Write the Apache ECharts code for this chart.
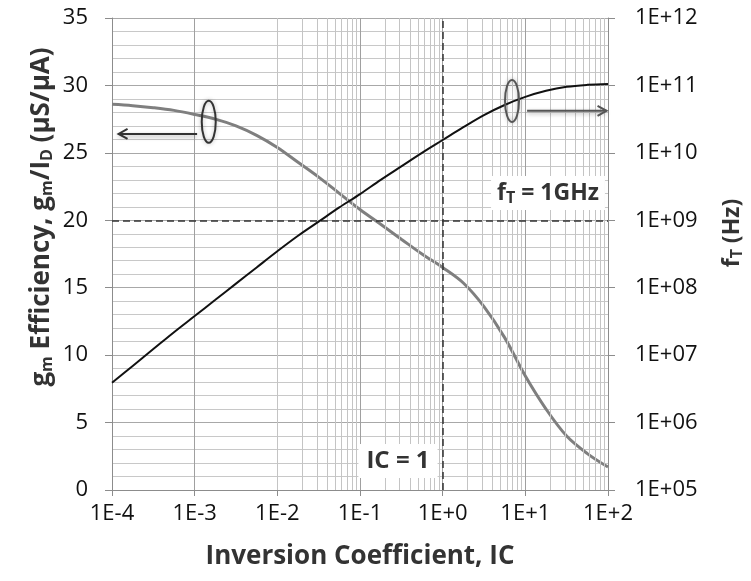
<!DOCTYPE html>
<html>
<head>
<meta charset="utf-8">
<script src="https://cdn.jsdelivr.net/npm/echarts@6/dist/echarts.min.js"></script>
<style>
  html, body { margin: 0; padding: 0; background: #fff; }
  #chart { width: 751px; height: 581px; }
</style>
</head>
<body>
<div id="chart"></div>
<script>
// inversion coefficient samples, quarter decades (x, log scale)
const icValues = [
  1e-4, 1.78e-4, 3.16e-4, 5.62e-4,
  1e-3, 1.78e-3, 3.16e-3, 5.62e-3,
  1e-2, 1.78e-2, 3.16e-2, 5.62e-2,
  1e-1, 1.78e-1, 3.16e-1, 5.62e-1,
  1, 1.78, 3.16, 5.62,
  10, 17.8, 31.6, 56.2,
  100
];
// gm/ID efficiency, uS/uA (left axis)
const gmIdValues = [
  28.6, 28.5, 28.35, 28.15,
  27.85, 27.5, 27.0, 26.3,
  25.4, 24.3, 23.2, 22.0,
  20.8, 19.7, 18.6, 17.5,
  16.5, 15.35, 13.6, 11.3,
  8.45, 6.0, 4.0, 2.7,
  1.7
];
// transit frequency fT, Hz (right axis)
const ftValues = [
  3.89e6, 6.92e6, 1.23e7, 2.19e7,
  3.80e7, 6.61e7, 1.15e8, 2.00e8,
  3.47e8, 5.89e8, 9.55e8, 1.55e9,
  2.45e9, 3.98e9, 6.31e9, 1.0e10,
  1.55e10, 2.40e10, 3.63e10, 5.13e10,
  6.76e10, 8.32e10, 9.55e10, 1.02e11,
  1.05e11
];

const xDecades = [1e-4, 1e-3, 1e-2, 1e-1, 1e0, 1e1, 1e2];
const minorSteps = [2, 3, 4, 5, 6, 7, 8, 9];
const gmRef = 20;   // horizontal dashed line
const icRef = 1;    // vertical dashed line

var chartDom = document.getElementById('chart');
var myChart = echarts.init(chartDom);
var font = 'Open Sans';

const expOf = v => Math.round(Math.log10(v));

// minor vertical gridlines at 2..9 x each decade
var minorLines = [];
xDecades.slice(0, -1).forEach(d => {
  minorSteps.forEach(m => minorLines.push({ xAxis: d * m }));
});

var subStyle = { fontSize: 16, fontWeight: 'bold', fontFamily: font, padding: [10, 0, 0, 0] };

var option = {
  animation: false,
  backgroundColor: '#fff',
  grid: { left: 112, right: 143, top: 18, bottom: 91 },
  xAxis: {
    type: 'log',
    min: 1e-4,
    max: 1e2,
    logBase: 10,
    interval: 1,
    axisLine: { lineStyle: { color: '#8c8c8c', width: 1 } },
    axisTick: { show: true, length: 6, lineStyle: { color: '#8c8c8c' } },
    axisLabel: {
      margin: 13,
      color: '#111',
      fontSize: 22,
      fontFamily: font,
      formatter: v => { const e = expOf(v); return '1E' + (e >= 0 ? '+' : '') + e; }
    },
    splitLine: { show: true, lineStyle: { color: '#a0a0a0', width: 1 } }
  },
  yAxis: [
    {
      type: 'value',
      min: 0,
      max: 35,
      interval: 5,
      axisLine: { show: true, lineStyle: { color: '#8c8c8c' } },
      axisTick: { show: true, length: 7, lineStyle: { color: '#8c8c8c' } },
      axisLabel: { margin: 24, color: '#111', fontSize: 22, fontFamily: font },
      splitLine: { show: true, lineStyle: { color: '#a8a8a8', width: 1 } },
      minorTick: { show: false, splitNumber: 5 },
      minorSplitLine: { show: true, lineStyle: { color: '#c8c8c8', width: 1 } }
    },
    {
      type: 'log',
      min: 1e5,
      max: 1e12,
      logBase: 10,
      interval: 1,
      position: 'right',
      axisLine: { show: true, lineStyle: { color: '#8c8c8c' } },
      axisTick: { show: true, length: 7, lineStyle: { color: '#8c8c8c' } },
      axisLabel: {
        margin: 27,
        color: '#111',
        fontSize: 22,
        fontFamily: font,
        formatter: v => '1E+' + String(expOf(v)).padStart(2, '0')
      },
      splitLine: { show: false }
    }
  ],
  series: [
    {
      name: 'minor grid',
      type: 'line',
      data: [],
      z: 1,
      silent: true,
      markLine: {
        silent: true,
        symbol: ['none', 'none'],
        label: { show: false },
        lineStyle: { color: '#c4c4c4', type: 'solid', width: 1 },
        emphasis: { disabled: true },
        data: minorLines
      }
    },
    {
      name: 'gm/ID',
      type: 'line',
      yAxisIndex: 0,
      smooth: 0.35,
      showSymbol: false,
      lineStyle: { color: '#7f7f7f', width: 3 },
      data: icValues.map((x, i) => [x, gmIdValues[i]]),
      z: 4,
      markLine: {
        silent: true,
        symbol: ['none', 'none'],
        label: { show: false },
        lineStyle: { color: '#333', type: [7, 4], width: 1.5 },
        data: [{ yAxis: gmRef }, { xAxis: icRef }]
      }
    },
    {
      name: 'fT',
      type: 'line',
      yAxisIndex: 1,
      smooth: 0.35,
      showSymbol: false,
      lineStyle: { color: '#111', width: 2 },
      data: icValues.map((x, i) => [x, ftValues[i]]),
      z: 5
    }
  ]
};

option && myChart.setOption(option);

// annotations placed from data coordinates
const toPx = (pt, yIdx) => myChart.convertToPixel({ xAxisIndex: 0, yAxisIndex: yIdx }, pt);
var lEll = toPx([1.48e-3, 27.3], 0);
var lArrA = toPx([1.07e-3, 26.4], 0);
var lArrB = toPx([1.2e-4, 26.4], 0);
var rEll = toPx([6.9, 5.9e10], 1);
var rArrA = toPx([10.5, 4.2e10], 1);
var rArrB = toPx([96, 4.2e10], 1);

function arrow(a, b, color) {
  var dir = b[0] > a[0] ? 1 : -1;
  return [
    { type: 'polyline', z: 50, shape: { points: [a, b] },
      style: { stroke: color, lineWidth: 2, fill: null, shadowColor: 'rgba(0,0,0,0.35)', shadowBlur: 4, shadowOffsetY: 2 } },
    { type: 'polyline', z: 50, shape: { points: [[b[0] - dir * 9, b[1] - 5], b, [b[0] - dir * 9, b[1] + 5]] },
      style: { stroke: color, lineWidth: 2, fill: null } }
  ];
}

var graphics = [
  { type: 'ellipse', z: 50, shape: { cx: lEll[0], cy: lEll[1], rx: 7, ry: 21 },
    style: { stroke: '#333', lineWidth: 2, fill: null, shadowColor: 'rgba(0,0,0,0.3)', shadowBlur: 4 } },
  { type: 'ellipse', z: 50, shape: { cx: rEll[0], cy: rEll[1], rx: 7, ry: 21 },
    style: { stroke: '#555', lineWidth: 2, fill: null, shadowColor: 'rgba(0,0,0,0.3)', shadowBlur: 4 } }
].concat(arrow(lArrA, lArrB, '#333'), arrow(rArrA, rArrB, '#555'));

// text boxes
graphics.push({
  type: 'text', z: 40, x: 548, y: 193,
  style: {
    text: 'f{s|T} = 1GHz', align: 'center', verticalAlign: 'middle',
    font: 'bold 23px "Open Sans"', fill: '#333', backgroundColor: '#fff', padding: [4, 6],
    rich: { s: subStyle }
  }
});
graphics.push({
  type: 'text', z: 40, x: 398, y: 461,
  style: {
    text: 'IC = 1', align: 'center', verticalAlign: 'middle',
    font: 'bold 24px "Open Sans"', fill: '#333', backgroundColor: '#fff', padding: [5, 8]
  }
});

// axis titles
graphics.push({
  type: 'text', z: 40, x: 360, y: 557,
  style: { text: 'Inversion Coefficient, IC', align: 'center', verticalAlign: 'middle',
    font: 'bold 26px "Open Sans"', fill: '#333' }
});
graphics.push({
  type: 'text', z: 40, x: 42, y: 217, rotation: Math.PI / 2,
  style: {
    text: 'g{s|m} Efficiency, g{s|m}/I{s|D} (µS/µA)', align: 'center', verticalAlign: 'middle',
    font: 'bold 26px "Open Sans"', fill: '#333', rich: { s: subStyle }
  }
});
graphics.push({
  type: 'text', z: 40, x: 732, y: 233, rotation: Math.PI / 2,
  style: {
    text: 'f{s|T} (Hz)', align: 'center', verticalAlign: 'middle',
    font: 'bold 23px "Open Sans"', fill: '#333', rich: { s: subStyle }
  }
});

myChart.setOption({ graphic: graphics });
</script>
</body>
</html>
